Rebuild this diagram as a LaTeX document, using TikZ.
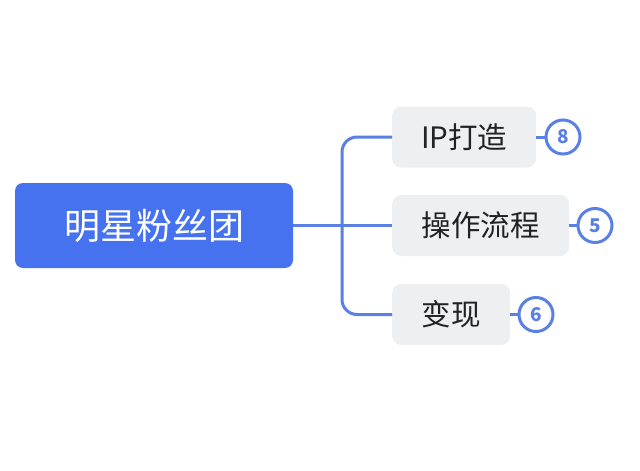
\documentclass[tikz,border=0pt]{standalone}
\usepackage{fontspec}
\setmainfont{Noto Sans CJK SC}
\definecolor{rootblue}{HTML}{4672F0}
\definecolor{linkblue}{HTML}{5A80E4}
\definecolor{leafgray}{HTML}{EEEFF1}
\definecolor{leaftext}{HTML}{222222}
\tikzset{
	rootbox/.style={fill=rootblue,rounded corners=8pt,minimum width=278pt,minimum height=85pt,text=white,font=\fontsize{36}{42}\selectfont},
	leafbox/.style={fill=leafgray,rounded corners=9pt,anchor=west,minimum height=61pt,text=leaftext,font=\fontsize{29.5}{35}\selectfont},
	badge/.style={circle,draw=linkblue,line width=3pt,fill=white,minimum size=34pt,inner sep=0pt,text=linkblue,font=\fontsize{19}{21}\selectfont\bfseries},
	link/.style={draw=linkblue,line width=3pt}
}
\begin{document}
\begin{tikzpicture}[x=1pt,y=-1pt]
	\useasboundingbox (0,0) rectangle (640,471);

	% Zentrum
	\node (root) at (154,225.5) [rootbox] {明星粉丝团};

	% Zweige
	\node (ip) at (392,137) [leafbox,minimum width=144pt] {IP打造};
	\node (ops) at (392,225.5) [leafbox,minimum width=177pt] {操作流程};
	\node (cash) at (392,314.5) [leafbox,minimum width=118pt] {变现};

	\coordinate (trunk) at (342,225.5);
	\draw[link] (root.east) -- (ops.west);
	\draw[link,rounded corners=15pt] (ip.west) -| (trunk) |- (cash.west);

	% Zahlen
	\node (ipn) at (563,137) [badge] {8};
	\node (opsn) at (595,225.5) [badge] {5};
	\node (cashn) at (536,314.5) [badge] {6};

	\draw[link] (ip.east) -- (ipn.west);
	\draw[link] (ops.east) -- (opsn.west);
	\draw[link] (cash.east) -- (cashn.west);

\end{tikzpicture}
\end{document}
